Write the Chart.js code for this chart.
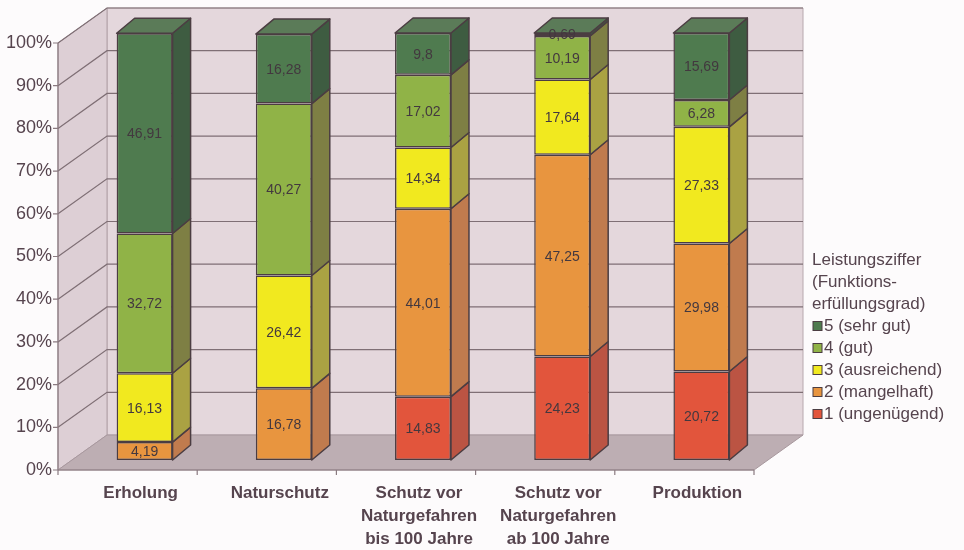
<!DOCTYPE html>
<html>
<head>
<meta charset="utf-8">
<script src="https://cdn.jsdelivr.net/npm/chart.js@4/dist/chart.umd.min.js"></script>
<style>
  html, body { margin: 0; padding: 0; background: #fdfbfc; }
  canvas { display: block; }
</style>
</head>
<body>
<canvas id="chart" width="964" height="550"></canvas>
<script>
// ---- data ----
const categories = [
  ['Erholung'],
  ['Naturschutz'],
  ['Schutz vor', 'Naturgefahren', 'bis 100 Jahre'],
  ['Schutz vor', 'Naturgefahren', 'ab 100 Jahre'],
  ['Produktion']
];
const legendTitle = ['Leistungsziffer', '(Funktions-', 'erfüllungsgrad)'];
const seriesNames = ['1 (ungenügend)', '2 (mangelhaft)', '3 (ausreichend)', '4 (gut)', '5 (sehr gut)'];
const grade1 = [null, null, 14.83, 24.23, 20.72];
const grade2 = [4.19, 16.78, 44.01, 47.25, 29.98];
const grade3 = [16.13, 26.42, 14.34, 17.64, 27.33];
const grade4 = [32.72, 40.27, 17.02, 10.19, 6.28];
const grade5 = [46.91, 16.28, 9.8, 0.69, 15.69];
const yMin = 0, yMax = 100, yStep = 10;

// ---- styling ----
const frontColors = ['#e2553c', '#e8953f', '#f1e91f', '#90b347', '#4f7b4f'];
const sideColors  = ['#bb5443', '#c07b4e', '#aaa243', '#7e7f44', '#3e5c41'];
const topColors   = ['#d0624c', '#d48a4a', '#cfc83a', '#8ea04c', '#5b7b58'];
const edgeColor = '#4b3d42';
const textColor = '#56444e';
const labelColor = '#43383f';
const fontFamily = '"Liberation Sans", Arial, sans-serif';

// depth offsets (pixels) relative to the bar front plane
const FRONT = { dx: -17, dy: 10 };   // front edge of floor / axis
const BACK  = { dx: 32,  dy: -25 };  // back wall
const BAR   = { dx: 18,  dy: -15 };  // bar depth

const seriesValues = [grade1, grade2, grade3, grade4, grade5];

function poly(ctx, pts, fill, stroke, lw) {
  ctx.beginPath();
  ctx.moveTo(pts[0][0], pts[0][1]);
  for (let i = 1; i < pts.length; i++) ctx.lineTo(pts[i][0], pts[i][1]);
  ctx.closePath();
  if (fill) { ctx.fillStyle = fill; ctx.fill(); }
  if (stroke) { ctx.strokeStyle = stroke; ctx.lineWidth = lw || 1; ctx.stroke(); }
}

// walls, floor and gridlines of the 3D box
const wallsPlugin = {
  id: 'walls',
  beforeDraw(chart) {
    const { ctx, chartArea: a, scales: { y } } = chart;
    const y0 = y.getPixelForValue(yMin), yT = y.getPixelForValue(yMax);
    const fl = a.left + FRONT.dx, fr = a.right + FRONT.dx;
    const bl = a.left + BACK.dx, br = a.right + BACK.dx;
    ctx.save();
    ctx.fillStyle = '#fdfbfc';
    ctx.fillRect(0, 0, chart.width, chart.height);

    // back wall
    poly(ctx, [[bl, yT + BACK.dy], [br, yT + BACK.dy], [br, y0 + BACK.dy], [bl, y0 + BACK.dy]], '#e4d7dc', '#b8a8ae', 1);
    // side wall
    poly(ctx, [[fl, yT + FRONT.dy], [bl, yT + BACK.dy], [bl, y0 + BACK.dy], [fl, y0 + FRONT.dy]], '#ddcfd5', '#b0a0a6', 1);
    // floor
    poly(ctx, [[fl, y0 + FRONT.dy], [fr, y0 + FRONT.dy], [br, y0 + BACK.dy], [bl, y0 + BACK.dy]], '#bdaeb3', '#a8989e', 1);

    // gridlines
    ctx.strokeStyle = '#7f6f75';
    ctx.lineWidth = 1.2;
    y.ticks.forEach(t => {
      if (t.value === yMin) return;
      const py = y.getPixelForValue(t.value);
      ctx.beginPath();
      ctx.moveTo(fl, py + FRONT.dy);
      ctx.lineTo(bl, py + BACK.dy);
      ctx.lineTo(br, py + BACK.dy);
      ctx.stroke();
    });

    // value axis line and tick marks
    ctx.strokeStyle = '#8a7a80';
    ctx.lineWidth = 1.2;
    ctx.beginPath();
    ctx.moveTo(fl, yT + FRONT.dy);
    ctx.lineTo(fl, y0 + FRONT.dy);
    y.ticks.forEach(t => {
      const py = y.getPixelForValue(t.value) + FRONT.dy;
      ctx.moveTo(fl - 5, py);
      ctx.lineTo(fl, py);
    });
    // category axis line and tick marks
    ctx.moveTo(fl, y0 + FRONT.dy);
    ctx.lineTo(fr, y0 + FRONT.dy);
    const step = (a.right - a.left) / categories.length;
    for (let i = 0; i <= categories.length; i++) {
      const px = a.left + i * step + FRONT.dx;
      ctx.moveTo(px, y0 + FRONT.dy);
      ctx.lineTo(px, y0 + FRONT.dy + 5);
    }
    ctx.stroke();
    ctx.restore();
  }
};

// side and top faces of the bars, then the value labels
const barsPlugin = {
  id: 'bars3d',
  afterDatasetsDraw(chart) {
    const { ctx } = chart;
    ctx.save();
    ctx.lineJoin = 'round';
    for (let i = 0; i < categories.length; i++) {
      let topIdx = -1;
      for (let d = 0; d < seriesValues.length; d++) if (seriesValues[d][i] != null) topIdx = d;
      for (let d = 0; d < seriesValues.length; d++) {
        if (seriesValues[d][i] == null) continue;
        const el = chart.getDatasetMeta(d).data[i];
        const left = el.x - el.width / 2, right = el.x + el.width / 2;
        const top = el.y, bottom = el.base;
        poly(ctx, [[right, top], [right + BAR.dx, top + BAR.dy], [right + BAR.dx, bottom + BAR.dy], [right, bottom]],
          sideColors[d], edgeColor, 1.5);
        if (d === topIdx) {
          poly(ctx, [[left, top], [left + BAR.dx, top + BAR.dy], [right + BAR.dx, top + BAR.dy], [right, top]],
            topColors[d], edgeColor, 1.5);
        }
      }
    }
    ctx.font = '14px ' + fontFamily;
    ctx.fillStyle = labelColor;
    ctx.textAlign = 'center';
    ctx.textBaseline = 'middle';
    for (let d = 0; d < seriesValues.length; d++) {
      chart.getDatasetMeta(d).data.forEach((el, i) => {
        const v = seriesValues[d][i];
        if (v == null) return;
        ctx.fillText(String(v).replace('.', ','), el.x, (el.y + el.base) / 2 + 1);
      });
    }
    ctx.restore();
  }
};

// legend on the right, highest grade first
const legendPlugin = {
  id: 'sideLegend',
  afterDraw(chart) {
    const { ctx } = chart;
    const x0 = 812;
    let y = 260;
    const lh = 22;
    ctx.save();
    ctx.font = '17px ' + fontFamily;
    ctx.fillStyle = textColor;
    ctx.textAlign = 'left';
    ctx.textBaseline = 'middle';
    legendTitle.forEach(t => { ctx.fillText(t, x0, y); y += lh; });
    for (let d = seriesNames.length - 1; d >= 0; d--) {
      ctx.fillStyle = frontColors[d];
      ctx.fillRect(x0 + 1, y - 4.5, 9, 9);
      ctx.strokeStyle = edgeColor;
      ctx.lineWidth = 1;
      ctx.strokeRect(x0 + 1, y - 4.5, 9, 9);
      ctx.fillStyle = textColor;
      ctx.fillText(seriesNames[d], x0 + 12, y);
      y += lh;
    }
    ctx.restore();
  }
};

new Chart(document.getElementById('chart'), {
  type: 'bar',
  data: {
    labels: categories,
    datasets: seriesValues.map((vals, d) => ({
      label: seriesNames[d],
      data: vals,
      backgroundColor: frontColors[d],
      borderColor: edgeColor,
      borderWidth: 1.5,
      borderSkipped: false,
      barPercentage: 0.402,
      categoryPercentage: 1
    }))
  },
  options: {
    responsive: false,
    animation: false,
    events: [],
    layout: { padding: { top: 33, right: 193, left: 0, bottom: 0 } },
    plugins: { legend: { display: false }, tooltip: { enabled: false } },
    scales: {
      x: {
        stacked: true,
        grid: { display: false },
        border: { display: false },
        afterFit(s) { s.height = 90; },
        ticks: {
          padding: 14,
          labelOffset: -4,
          color: textColor,
          font: { family: fontFamily, size: 17, weight: 'bold', lineHeight: 1.353 },
          maxRotation: 0, autoSkip: false
        }
      },
      y: {
        stacked: true,
        min: yMin, max: yMax,
        grid: { display: false },
        border: { display: false },
        afterFit(s) { s.width = 75; },
        ticks: {
          stepSize: yStep,
          padding: 15,
          labelOffset: 10,
          color: textColor,
          font: { family: fontFamily, size: 18 },
          callback: v => v + '%'
        }
      }
    }
  },
  plugins: [wallsPlugin, barsPlugin, legendPlugin]
});
</script>
</body>
</html>
